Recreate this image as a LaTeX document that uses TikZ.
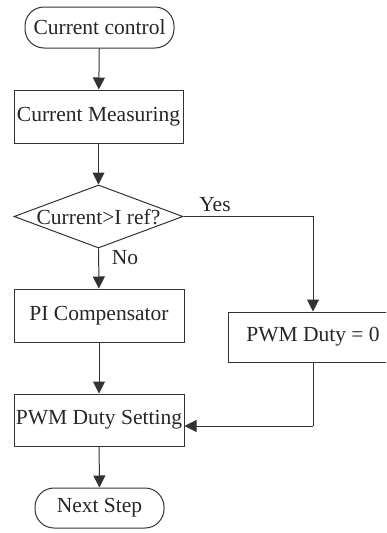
\documentclass[tikz,border=0pt]{standalone}
\usepackage{fontspec}
\setmainfont{Liberation Serif}
\usetikzlibrary{arrows.meta,shapes.geometric}
\begin{document}
\begin{tikzpicture}[x=1pt,y=-1pt,
  every node/.style={font=\fontsize{21.5}{24}\selectfont, text=black!85},
  box/.style={draw=black!80, line width=1pt, rectangle, inner sep=0pt},
  term/.style={draw=black!80, line width=1pt, rectangle, rounded corners=19pt, inner sep=0pt},
  flow/.style={draw=black!80, line width=1pt, -{Triangle[length=12pt,width=12pt]}},
  plain/.style={draw=black!80, line width=1pt}]
\useasboundingbox (0,0) rectangle (386,533);
\clip (0,0) rectangle (386,533);
\node[term, minimum width=149pt, minimum height=41pt] (start) at (99.5,27.5) {Current control};
\node[box, minimum width=169pt, minimum height=53pt] (meas) at (98.5,116.5) {Current Measuring};
\node[draw=black!80, line width=1pt, diamond, aspect=2.68, inner sep=0pt, minimum width=169pt, minimum height=63pt] (dec) at (98.5,216.5) {};
\node (dectext) at (98.5,217) {Current>I ref?};
\node[box, minimum width=170pt, minimum height=53pt] (pi) at (99,315.5) {PI Compensator};
\node[box, minimum width=170pt, minimum height=50pt] (zero) at (313,337) {PWM Duty = 0};
\node[box, minimum width=170pt, minimum height=52pt] (set) at (99,420) {PWM Duty Setting};
\node[term, minimum width=129pt, minimum height=40pt] (next) at (99.5,508) {Next Step};
\node (yes) at (215,205) {Yes};
\node (no) at (125,258) {No};
\coordinate (j) at (313,426);
\draw[flow] (start) -- (meas);
\draw[flow] (meas) -- (dec);
\draw[flow] (dec) -- (pi);
\draw[flow] (dec.east) -| (zero.north);
\draw[flow] (pi) -- (set);
\draw[plain] (zero.south) -- (j);
\draw[flow] (j) -- (set.east |- j);
\draw[flow] (set) -- (next);
\end{tikzpicture}
\end{document}
